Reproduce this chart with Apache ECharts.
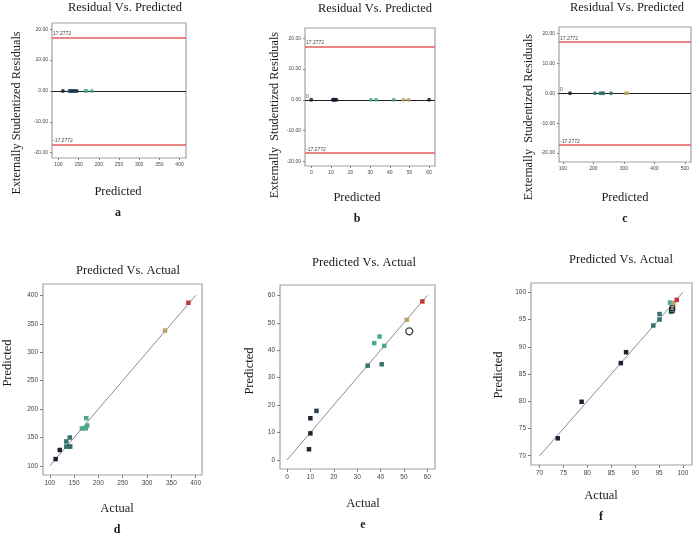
<!DOCTYPE html>
<html lang="en">
<head>
    <meta charset="UTF-8">
    <title>Residual and Predicted Vs. Actual</title>
    <style>
        html, body { margin: 0; padding: 0; background: #fff; }
        #main { width: 696px; height: 536px; }
    </style>
</head>
<body>
<div id="main"></div>
<script src="https://cdn.jsdelivr.net/npm/echarts@6/dist/echarts.min.js"></script>
<script>
    // top row: residuals (all on the zero line)
    var predA = [111, 127, 131, 134, 138, 142, 146, 166, 170, 183];
    var predB = [0, 11, 11.5, 12, 12.8, 30.4, 33, 42, 47, 49.5, 60];
    var predC = [123, 205, 222, 228, 233, 258, 306, 311];
    var limit = 17.2772;

    // bottom row: [actual, predicted]
    var pointsD = [[112, 112], [120.5, 128], [134, 143], [134, 134], [140, 134], [142, 134],
                   [141, 150], [166, 166], [175, 184], [174, 166], [177, 171], [337, 338], [385, 387]];
    var pointsE = [[9.4, 3.9], [10, 9.7], [10, 15.2], [12.6, 17.9], [34.5, 34.4], [37.3, 42.6],
                   [39.6, 45], [41.6, 41.6], [40.5, 34.9], [51.2, 51.1], [57.9, 57.8]];
    var flaggedE = [[52.3, 46.9]];
    var pointsF = [[73.8, 73.2], [78.8, 79.9], [87, 87], [88.1, 89], [93.8, 93.9], [95.1, 95.0],
                   [95.1, 96.0], [97.3, 98.1], [97.5, 96.4], [98, 98], [98.7, 98.6]];
    var flaggedF = [[97.8, 97.1], [97.7, 96.7]];
    var diagD = [[100, 100], [400, 400]];
    var diagE = [[0, 0], [60, 60]];
    var diagF = [[70, 70], [100, 100]];

    var C_BLACK = '#14142a', C_NAVY = '#1d3448', C_TEAL = '#2d6a66',
        C_GREEN = '#45a67e', C_OLIVE = '#b8a062', C_RED = '#c42a2a';

    function zeroPairs(arr) {
        return arr.map(function (v) { return [v, 0]; });
    }

    var serif = '"Liberation Serif", "DejaVu Serif", serif';
    var sans = '"Liberation Sans", Arial, sans-serif';

    var grids = [
        {left: 52, top: 23, width: 134, height: 135},
        {left: 305, top: 28, width: 130, height: 138},
        {left: 559, top: 27, width: 132, height: 135},
        {left: 43, top: 284, width: 159, height: 191},
        {left: 280, top: 285, width: 155, height: 184},
        {left: 531, top: 283, width: 161, height: 182}
    ].map(function (g) {
        g.show = true;
        g.borderColor = '#a2a2a2';
        g.borderWidth = 1.2;
        return g;
    });

    function axis(idx, min, max, small, fmt) {
        return {
            type: 'value',
            gridIndex: idx,
            min: min,
            max: max,
            splitLine: {show: false},
            axisLine: {show: false, onZero: false},
            axisTick: {show: true, length: small ? 2 : 3, lineStyle: {color: '#666', width: 0.8}},
            axisLabel: {
                fontSize: small ? 5 : 6.5,
                color: '#444',
                fontFamily: sans,
                margin: small ? 4 : 5,
                showMinLabel: false,
                showMaxLabel: false,
                formatter: fmt
            }
        };
    }
    function fix2(v) { return v.toFixed(2); }

    var xAxes = [
        axis(0, 84, 416, true),
        axis(1, -3.2, 63, true),
        axis(2, 87, 520, true),
        axis(3, 86, 413, false),
        axis(4, -3, 63.3, false),
        axis(5, 68.2, 101.9, false)
    ];
    var yAxes = [
        axis(0, -21.7, 22, true, fix2),
        axis(1, -21.5, 23.3, true, fix2),
        axis(2, -23, 22.2, true, fix2),
        axis(3, 84, 420, false),
        axis(4, -3.3, 63.8, false),
        axis(5, 68.3, 101.7, false)
    ];

    function limitLines(showZeroLabel) {
        var lbl = {position: 'insideStartTop', fontSize: 5, color: '#444', fontFamily: sans, distance: 1};
        return {
            silent: true,
            symbol: 'none',
            animation: false,
            data: [
                {yAxis: limit, lineStyle: {color: '#e35d5d', width: 1.6, type: 'solid'},
                    label: Object.assign({formatter: limit.toFixed(4)}, lbl)},
                {yAxis: -limit, lineStyle: {color: '#e35d5d', width: 1.6, type: 'solid'},
                    label: Object.assign({formatter: (-limit).toFixed(4)}, lbl)},
                {yAxis: 0, lineStyle: {color: '#222', width: 1.1, type: 'solid'},
                    label: Object.assign({show: showZeroLabel, formatter: '0'}, lbl)}
            ]
        };
    }

    function residSeries(idx, data, showZeroLabel) {
        return {
            type: 'scatter',
            xAxisIndex: idx,
            yAxisIndex: idx,
            data: zeroPairs(data),
            symbol: 'circle',
            symbolSize: 4,
            z: 5,
            markLine: limitLines(showZeroLabel)
        };
    }
    function pointSeries(idx, data) {
        return {
            type: 'scatter',
            xAxisIndex: idx,
            yAxisIndex: idx,
            data: data,
            symbol: 'rect',
            symbolSize: 4.5,
            z: 5,
            itemStyle: {opacity: 0.95}
        };
    }
    function flagSeries(idx, data, sym, size) {
        return {
            type: 'scatter',
            xAxisIndex: idx,
            yAxisIndex: idx,
            data: data,
            symbol: sym,
            symbolSize: size,
            z: 6,
            itemStyle: {color: 'rgba(255,255,255,0)', borderColor: '#111', borderWidth: 1.3}
        };
    }
    function diagSeries(idx, data) {
        return {
            type: 'line',
            xAxisIndex: idx,
            yAxisIndex: idx,
            data: data,
            symbol: 'none',
            silent: true,
            z: 3,
            lineStyle: {color: '#8c8c8c', width: 1}
        };
    }

    var series = [
        residSeries(0, predA, false),   // 0
        residSeries(1, predB, true),    // 1
        residSeries(2, predC, true),    // 2
        pointSeries(3, pointsD),        // 3
        diagSeries(3, diagD),           // 4
        pointSeries(4, pointsE),        // 5
        flagSeries(4, flaggedE, 'circle', 7), // 6
        diagSeries(4, diagE),           // 7
        pointSeries(5, pointsF),        // 8
        flagSeries(5, flaggedF, 'rect', 4.5), // 9
        diagSeries(5, diagF)            // 10
    ];

    function pieces(seriesIndex, dim, cuts, colors) {
        var p = [];
        for (var i = 0; i < colors.length; i++) {
            var piece = {color: colors[i]};
            if (i > 0) piece.gte = cuts[i - 1];
            if (i < cuts.length) piece.lt = cuts[i];
            p.push(piece);
        }
        return {type: 'piecewise', show: false, seriesIndex: seriesIndex, dimension: dim, pieces: p};
    }

    var visualMaps = [
        pieces(0, 0, [125, 160], [C_BLACK, C_NAVY, C_GREEN]),
        pieces(1, 0, [20, 45, 55], [C_BLACK, C_GREEN, C_OLIVE, C_BLACK]),
        pieces(2, 0, [150, 280], [C_BLACK, C_TEAL, C_OLIVE]),
        pieces(3, 1, [130, 160, 300, 370], [C_BLACK, C_TEAL, C_GREEN, C_OLIVE, C_RED]),
        pieces(5, 1, [17, 30, 40, 50, 55], [C_BLACK, C_NAVY, C_TEAL, C_GREEN, C_OLIVE, C_RED]),
        pieces(8, 0, [90, 95.5, 97.9, 98.5], [C_BLACK, C_TEAL, C_GREEN, C_OLIVE, C_RED])
    ];

    function txt(text, x, y, size, opts) {
        opts = opts || {};
        return {
            type: 'text',
            x: x,
            y: y,
            rotation: opts.vertical ? Math.PI / 2 : 0,
            silent: true,
            style: {
                text: text,
                align: 'center',
                verticalAlign: 'middle',
                textAlign: 'center',
                textVerticalAlign: 'middle',
                fill: '#1a1a1a',
                font: (opts.bold ? 'bold ' : '') + size + 'px ' + serif
            }
        };
    }

    var graphics = [
        txt('Residual Vs. Predicted', 125, 8, 12.5),
        txt('Residual Vs. Predicted', 375, 9, 12.5),
        txt('Residual Vs. Predicted', 627, 8, 12.5),
        txt('Externally Studentized Residuals', 17, 113, 12.3, {vertical: true}),
        txt('Externally  Studentized Residuals', 275, 115, 12.3, {vertical: true}),
        txt('Externally  Studentized Residuals', 529, 117, 12.3, {vertical: true}),
        txt('Predicted', 118, 192, 12.5),
        txt('Predicted', 357, 198, 12.5),
        txt('Predicted', 625, 198, 12.5),
        txt('a', 118, 213, 12, {bold: true}),
        txt('b', 357, 219, 12, {bold: true}),
        txt('c', 625, 219, 12, {bold: true}),
        txt('Predicted Vs. Actual', 128, 271, 12.5),
        txt('Predicted Vs. Actual', 364, 263, 12.5),
        txt('Predicted Vs. Actual', 621, 260, 12.5),
        txt('Predicted', 8, 363, 12.5, {vertical: true}),
        txt('Predicted', 250, 371, 12.5, {vertical: true}),
        txt('Predicted', 499, 375, 12.5, {vertical: true}),
        txt('Actual', 117, 509, 12.5),
        txt('Actual', 363, 504, 12.5),
        txt('Actual', 601, 496, 12.5),
        txt('d', 117, 530, 12, {bold: true}),
        txt('e', 363, 525, 12, {bold: true}),
        txt('f', 601, 517, 12, {bold: true})
    ];

    var myChart = echarts.init(document.getElementById('main'));
    myChart.setOption({
        animation: false,
        backgroundColor: '#fff',
        grid: grids,
        xAxis: xAxes,
        yAxis: yAxes,
        visualMap: visualMaps,
        series: series,
        graphic: graphics
    });
</script>
</body>
</html>
